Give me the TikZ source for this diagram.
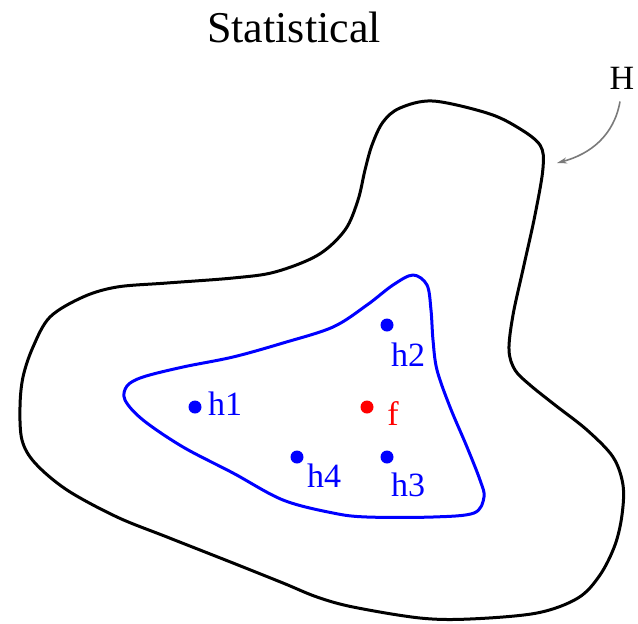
\documentclass[tikz,border=0pt]{standalone}
\usepackage{fontspec}
\setmainfont{Liberation Serif}
\usetikzlibrary{arrows.meta}
\definecolor{hypBlue}{HTML}{0000FF}
\definecolor{tgtRed}{HTML}{FF0000}
\definecolor{arrGrey}{HTML}{7A7A7A}

\begin{document}
\begin{tikzpicture}[x=0.5pt, y=-0.5pt,
   region/.style={line width=1.5pt, line join=round},
   pt/.style={circle, inner sep=0pt, minimum size=6.5pt},
   lbl/.style={inner sep=0pt, font=\fontsize{17}{20}\selectfont}]
\useasboundingbox (0,0) rectangle (638,623);

\node[font=\fontsize{22}{26}\selectfont] (title) at (294,27) {Statistical};

% hypothesis space H
\draw[region, black] plot[smooth cycle, tension=0.55] coordinates {
  (433,101) (487,113) (517,127) (540,145) (543,168) (535,215)
  (524,265) (513,315) (509,350) (515,370) (530,385) (555,405) (587,430)
  (613,457) (623,485) (622,515) (615,545) (600,575) (578,598) (537,613)
  (470,619) (420,618) (353,607) (317,597) (283,583) (233,563) (167,537)
  (117,517) (67,490) (35,463) (22,440) (20,407) (23,377) (33,347) (50,317)
  (83,297) (117,287) (167,283) (233,278) (275,272) (318,255)
  (345,230) (358,200) (365,170) (372,145) (383,122) (400,108)};

% good hypotheses
\draw[region, hypBlue] plot[smooth cycle, tension=0.55] coordinates {
  (413,275) (427,285) (431,310) (433,340) (437,370) (450,407) (467,447)
  (480,480) (484,497) (474,513) (433,517) (367,517) (333,513) (283,500)
  (233,473) (183,447) (143,420) (125,400) (127,386) (143,377) (183,367)
  (233,357) (283,343) (333,327) (367,305) (393,285)};

\node[lbl] (H) at (622,78) {H};
\coordinate (Hedge) at (557,163);
\draw[-{Stealth[length=5pt, width=3pt]}, arrGrey, line width=0.8pt]
  ([xshift=-1pt, yshift=-6pt]H.south) to[out=-100, in=15] (Hedge);

\foreach \n/\x/\y/\lx/\ly in {h1/195/407/225/404, h2/387/325/408/355,
                               h3/387/457/408/485, h4/297/457/324/476}{
  \node[pt, fill=hypBlue] (\n) at (\x,\y) {};
  \node[lbl, text=hypBlue] (\n-l) at (\lx,\ly) {\n};
}
\node[pt, fill=tgtRed] (f) at (367,407) {};
\node[lbl, text=tgtRed] (f-l) at (393,414) {f};
\end{tikzpicture}
\end{document}
